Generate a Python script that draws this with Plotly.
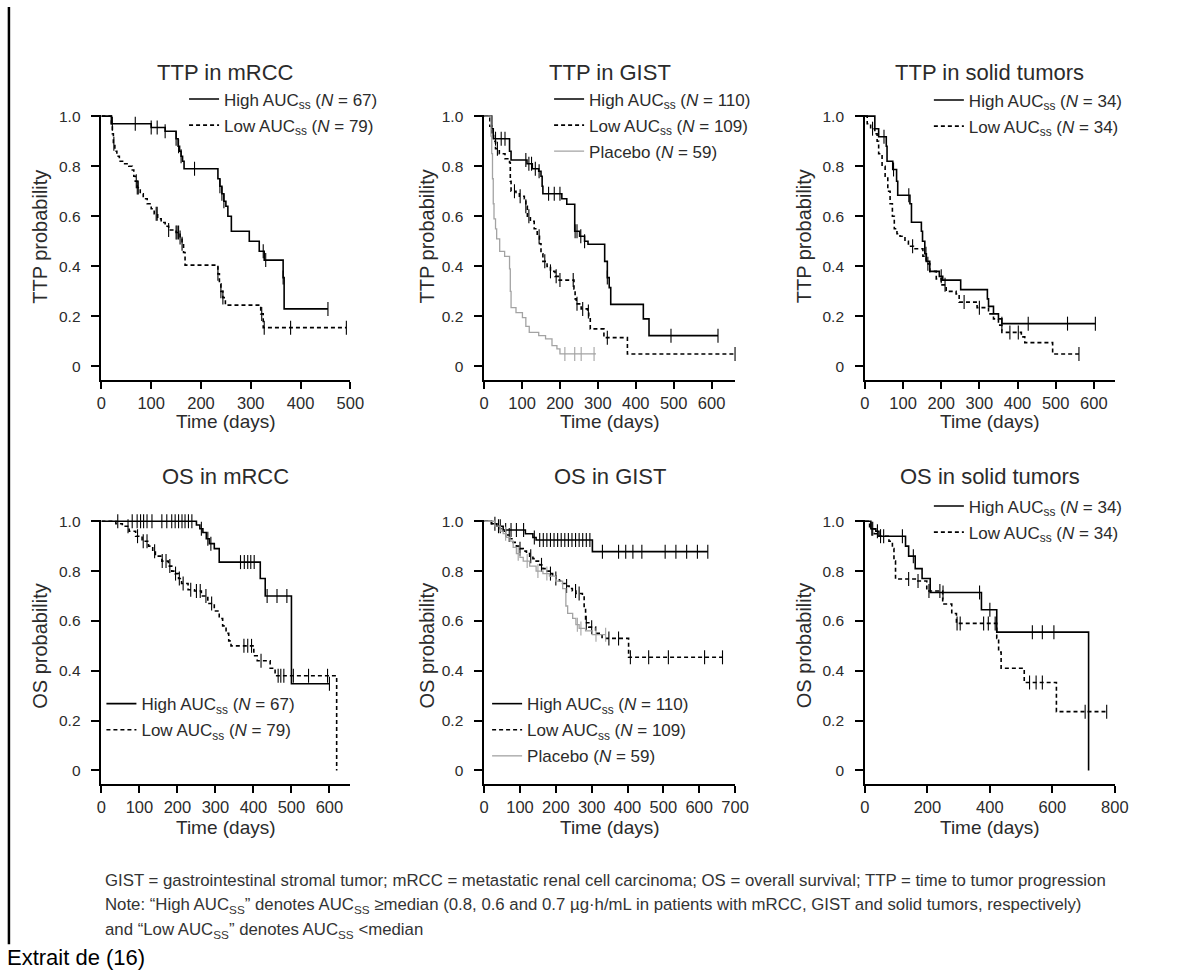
import plotly.graph_objects as go

# ---------------- DATA ----------------
# Each curve: step times (days), survival after each step, censor times (days)

# TTP in mRCC
ttp_mrcc_high_t = [0, 20, 100, 128, 150, 154, 157, 160, 163, 166, 234, 238, 242, 246, 250, 254, 261, 297, 317, 327, 365, 367, 455]
ttp_mrcc_high_s = [1.0, 0.97, 0.955, 0.94, 0.91, 0.88, 0.86, 0.84, 0.82, 0.79, 0.75, 0.72, 0.69, 0.66, 0.64, 0.60, 0.54, 0.50, 0.46, 0.425, 0.355, 0.23, 0.23]
ttp_mrcc_high_c = [22, 68, 100, 112, 128, 150, 155, 160, 187, 238, 242, 246, 325, 330, 365, 455]
ttp_mrcc_low_t = [0, 20, 22, 24, 27, 31, 36, 45, 55, 62, 65, 68, 72, 78, 84, 92, 100, 106, 113, 120, 128, 135, 150, 158, 162, 165, 168, 234, 237, 240, 244, 249, 320, 325, 492]
ttp_mrcc_low_s = [1.0, 0.97, 0.93, 0.89, 0.86, 0.84, 0.82, 0.81, 0.80, 0.785, 0.76, 0.74, 0.715, 0.69, 0.67, 0.65, 0.63, 0.61, 0.59, 0.575, 0.56, 0.545, 0.535, 0.515, 0.49, 0.455, 0.405, 0.37, 0.33, 0.30, 0.275, 0.245, 0.21, 0.155, 0.155]
ttp_mrcc_low_c = [25, 70, 72, 74, 110, 112, 135, 150, 152, 155, 158, 162, 234, 240, 244, 322, 327, 380, 492]

# TTP in GIST
ttp_gist_high_t = [0, 20, 24, 67, 71, 113, 127, 144, 150, 153, 155, 205, 218, 239, 252, 265, 274, 318, 325, 330, 334, 420, 435, 617]
ttp_gist_high_s = [1.0, 0.95, 0.91, 0.86, 0.825, 0.81, 0.79, 0.78, 0.76, 0.72, 0.69, 0.67, 0.648, 0.54, 0.52, 0.50, 0.488, 0.42, 0.355, 0.315, 0.248, 0.19, 0.123, 0.123]
ttp_gist_high_c = [30, 45, 55, 110, 118, 125, 135, 145, 170, 185, 200, 240, 245, 255, 265, 325, 493, 617]
ttp_gist_low_t = [0, 15, 20, 25, 30, 40, 55, 67, 69, 71, 84, 93, 106, 110, 114, 122, 132, 140, 146, 150, 155, 166, 175, 187, 198, 237, 240, 243, 256, 273, 276, 280, 316, 378, 662]
ttp_gist_low_s = [1.0, 0.96, 0.93, 0.90, 0.87, 0.85, 0.83, 0.815, 0.74, 0.70, 0.69, 0.68, 0.67, 0.64, 0.60, 0.58, 0.55, 0.52, 0.49, 0.45, 0.42, 0.40, 0.38, 0.36, 0.345, 0.31, 0.27, 0.25, 0.23, 0.22, 0.19, 0.15, 0.115, 0.05, 0.05]
ttp_gist_low_c = [35, 80, 95, 110, 118, 145, 160, 175, 190, 200, 235, 245, 260, 275, 325, 662]
ttp_gist_plac_t = [0, 18, 20, 22, 24, 26, 30, 33, 41, 54, 67, 69, 71, 84, 101, 110, 119, 144, 162, 179, 192, 200, 295]
ttp_gist_plac_s = [1.0, 0.92, 0.85, 0.75, 0.65, 0.59, 0.55, 0.51, 0.46, 0.44, 0.39, 0.30, 0.235, 0.215, 0.195, 0.16, 0.136, 0.123, 0.11, 0.083, 0.07, 0.05, 0.05]
ttp_gist_plac_c = [213, 239, 256, 290]

# TTP in solid tumors
ttp_solid_high_t = [0, 26, 36, 56, 58, 73, 83, 86, 118, 122, 148, 151, 157, 161, 170, 195, 204, 251, 321, 324, 337, 350, 359, 604]
ttp_solid_high_s = [1.0, 0.95, 0.918, 0.88, 0.82, 0.787, 0.74, 0.684, 0.65, 0.576, 0.54, 0.50, 0.45, 0.42, 0.38, 0.36, 0.345, 0.307, 0.27, 0.24, 0.21, 0.19, 0.171, 0.171]
ttp_solid_high_c = [50, 75, 115, 160, 200, 359, 428, 531, 604]
ttp_solid_low_t = [0, 6, 15, 26, 32, 36, 45, 53, 60, 66, 72, 77, 84, 92, 105, 114, 127, 152, 161, 170, 187, 200, 213, 239, 247, 294, 324, 337, 350, 359, 410, 419, 492, 561]
ttp_solid_low_s = [1.0, 0.97, 0.95, 0.93, 0.90, 0.85, 0.80, 0.76, 0.70, 0.65, 0.60, 0.55, 0.53, 0.52, 0.50, 0.48, 0.47, 0.44, 0.41, 0.38, 0.35, 0.326, 0.30, 0.29, 0.257, 0.235, 0.21, 0.19, 0.165, 0.136, 0.118, 0.095, 0.05, 0.05]
ttp_solid_low_c = [20, 125, 165, 210, 260, 300, 380, 402, 561]

# OS in mRCC
os_mrcc_high_t = [0, 250, 259, 267, 276, 284, 297, 310, 418, 431, 500, 600]
os_mrcc_high_s = [1.0, 0.985, 0.97, 0.955, 0.93, 0.91, 0.89, 0.836, 0.77, 0.70, 0.348, 0.348]
os_mrcc_high_c = [43, 81, 94, 103, 111, 120, 133, 159, 172, 185, 194, 203, 212, 220, 229, 238, 263, 280, 288, 366, 376, 385, 393, 402, 436, 462, 488, 600]
os_mrcc_low_t = [0, 38, 55, 73, 90, 107, 124, 135, 142, 159, 176, 185, 194, 203, 211, 228, 245, 263, 280, 297, 310, 319, 328, 335, 341, 401, 410, 444, 457, 619]
os_mrcc_low_s = [1.0, 0.99, 0.98, 0.96, 0.94, 0.92, 0.90, 0.88, 0.86, 0.84, 0.82, 0.80, 0.79, 0.77, 0.75, 0.725, 0.72, 0.70, 0.67, 0.64, 0.61, 0.58, 0.55, 0.52, 0.50, 0.46, 0.44, 0.41, 0.38, 0.0]
os_mrcc_low_c = [70, 95, 110, 120, 140, 160, 170, 180, 195, 205, 215, 235, 250, 260, 275, 290, 375, 385, 395, 420, 465, 472, 480, 505, 545, 595]

# OS in GIST
os_gist_high_t = [0, 21, 35, 53, 115, 136, 145, 302, 624]
os_gist_high_s = [1.0, 0.99, 0.98, 0.965, 0.95, 0.935, 0.925, 0.878, 0.878]
os_gist_high_c = [30, 45, 60, 75, 90, 110, 140, 155, 165, 175, 185, 195, 205, 215, 225, 235, 245, 255, 265, 275, 285, 295, 330, 375, 395, 415, 440, 505, 535, 565, 595, 624]
os_gist_low_t = [0, 20, 35, 45, 53, 62, 72, 81, 90, 100, 109, 118, 127, 136, 145, 155, 164, 173, 182, 191, 200, 210, 219, 228, 237, 246, 256, 274, 279, 283, 292, 311, 329, 403, 665]
os_gist_low_s = [1.0, 0.99, 0.98, 0.97, 0.96, 0.945, 0.93, 0.915, 0.90, 0.89, 0.88, 0.87, 0.86, 0.85, 0.84, 0.825, 0.81, 0.80, 0.79, 0.78, 0.77, 0.76, 0.75, 0.74, 0.73, 0.72, 0.71, 0.70, 0.65, 0.593, 0.575, 0.55, 0.53, 0.454, 0.454]
os_gist_low_c = [40, 70, 100, 130, 160, 185, 200, 230, 255, 265, 285, 300, 348, 375, 408, 459, 514, 615, 665]
os_gist_plac_t = [0, 30, 45, 53, 62, 72, 81, 90, 100, 109, 127, 145, 164, 182, 200, 219, 228, 233, 247, 256, 265, 283, 302, 339]
os_gist_plac_s = [1.0, 0.98, 0.96, 0.95, 0.935, 0.92, 0.895, 0.87, 0.855, 0.84, 0.82, 0.80, 0.79, 0.78, 0.76, 0.73, 0.66, 0.63, 0.61, 0.585, 0.57, 0.56, 0.545, 0.545]
os_gist_plac_c = [60, 95, 120, 150, 175, 260, 270, 312, 339]

# OS in solid tumors
os_solid_high_t = [0, 19, 35, 45, 130, 140, 161, 183, 209, 373, 422, 716]
os_solid_high_s = [1.0, 0.97, 0.96, 0.94, 0.90, 0.86, 0.81, 0.77, 0.714, 0.645, 0.555, 0.0]
os_solid_high_c = [25, 40, 60, 120, 155, 250, 367, 400, 536, 568, 605]
os_solid_low_t = [0, 15, 30, 45, 77, 88, 93, 98, 167, 198, 249, 278, 293, 422, 428, 436, 510, 613, 774]
os_solid_low_s = [1.0, 0.97, 0.95, 0.94, 0.92, 0.89, 0.84, 0.768, 0.76, 0.72, 0.668, 0.63, 0.59, 0.53, 0.475, 0.41, 0.353, 0.236, 0.236]
os_solid_low_c = [22, 50, 140, 170, 205, 240, 295, 305, 380, 395, 417, 527, 548, 568, 705, 774]

panel_titles = ["TTP in mRCC", "TTP in GIST", "TTP in solid tumors",
                "OS in mRCC", "OS in GIST", "OS in solid tumors"]
y_titles = ["TTP probability"] * 3 + ["OS probability"] * 3
x_title = "Time (days)"
x_ranges = [[0, 500], [0, 662], [0, 655], [0, 655], [0, 700], [0, 800]]
x_ticks = [[0, 100, 200, 300, 400, 500],
           [0, 100, 200, 300, 400, 500, 600],
           [0, 100, 200, 300, 400, 500, 600],
           [0, 100, 200, 300, 400, 500, 600],
           [0, 100, 200, 300, 400, 500, 600, 700],
           [0, 200, 400, 600, 800]]
y_ticks = [0, 0.2, 0.4, 0.6, 0.8, 1.0]
y_ticklabels = ["0", "0.2", "0.4", "0.6", "0.8", "1.0"]

lbl_high = "High AUC<sub>ss</sub> (<i>N</i> = {})"
lbl_low = "Low AUC<sub>ss</sub> (<i>N</i> = {})"
lbl_plac = "Placebo (<i>N</i> = {})"
n_mrcc = (67, 79)
n_gist = (110, 109, 59)
n_solid = (34, 34)

footnote_lines = [
    "GIST = gastrointestinal stromal tumor; mRCC = metastatic renal cell carcinoma; OS = overall survival; TTP = time to tumor progression",
    "Note: \u201cHigh AUC<sub>SS</sub>\u201d denotes AUC<sub>SS</sub> \u2265median (0.8, 0.6 and 0.7 \u00b5g\u00b7h/mL in patients with mRCC, GIST and solid tumors, respectively)",
    "and \u201cLow AUC<sub>SS</sub>\u201d denotes AUC<sub>SS</sub> <median",
]
source_text = "Extrait de (16)"

# ---------------- STYLE / LAYOUT ----------------
W, H = 1179, 976
TXT = "#2b2b2b"
GRAY = "#a3a3a3"
FONT = "Liberation Sans, Arial, Helvetica, sans-serif"

def px_x(p):
    return p / W

def px_y(p):
    return 1 - p / H

col_dom = [(98, 351), (487, 742), (874, 1128)]
row_dom = [(108.7, 375.9), (516.7, 782.8)]
y_range = [-0.055, 1.005]

curves = [
    [(ttp_mrcc_high_t, ttp_mrcc_high_s, ttp_mrcc_high_c, "high", lbl_high.format(n_mrcc[0])),
     (ttp_mrcc_low_t, ttp_mrcc_low_s, ttp_mrcc_low_c, "low", lbl_low.format(n_mrcc[1]))],
    [(ttp_gist_high_t, ttp_gist_high_s, ttp_gist_high_c, "high", lbl_high.format(n_gist[0])),
     (ttp_gist_low_t, ttp_gist_low_s, ttp_gist_low_c, "low", lbl_low.format(n_gist[1])),
     (ttp_gist_plac_t, ttp_gist_plac_s, ttp_gist_plac_c, "plac", lbl_plac.format(n_gist[2]))],
    [(ttp_solid_high_t, ttp_solid_high_s, ttp_solid_high_c, "high", lbl_high.format(n_solid[0])),
     (ttp_solid_low_t, ttp_solid_low_s, ttp_solid_low_c, "low", lbl_low.format(n_solid[1]))],
    [(os_mrcc_high_t, os_mrcc_high_s, os_mrcc_high_c, "high", lbl_high.format(n_mrcc[0])),
     (os_mrcc_low_t, os_mrcc_low_s, os_mrcc_low_c, "low", lbl_low.format(n_mrcc[1]))],
    [(os_gist_high_t, os_gist_high_s, os_gist_high_c, "high", lbl_high.format(n_gist[0])),
     (os_gist_low_t, os_gist_low_s, os_gist_low_c, "low", lbl_low.format(n_gist[1])),
     (os_gist_plac_t, os_gist_plac_s, os_gist_plac_c, "plac", lbl_plac.format(n_gist[2]))],
    [(os_solid_high_t, os_solid_high_s, os_solid_high_c, "high", lbl_high.format(n_solid[0])),
     (os_solid_low_t, os_solid_low_s, os_solid_low_c, "low", lbl_low.format(n_solid[1]))],
]

styles = {
    "high": dict(color="black", width=1.6, dash="solid"),
    "low": dict(color="black", width=1.6, dash="4px,3px"),
    "plac": dict(color=GRAY, width=1.3, dash="solid"),
}

# legend positions (left px, top px)
legend_pos = [(182, 75), (553, 75), (939, 76), (98, 684), (490, 684), (939, 485)]


def step_value(ts, ss, x):
    val = ss[0]
    for t, s in zip(ts, ss):
        if t <= x:
            val = s
        else:
            break
    return val


fig = go.Figure()
layout = dict()
annotations = []

for i in range(6):
    r, c = divmod(i, 3)
    n = i + 1
    xa = "x" if n == 1 else f"x{n}"
    ya = "y" if n == 1 else f"y{n}"
    lg = "legend" if n == 1 else f"legend{n}"
    for (ts, ss, cs, kind, label) in curves[i]:
        st = styles[kind]
        fig.add_trace(go.Scatter(
            x=ts, y=ss, mode="lines", line=dict(shape="hv", **st),
            name=label, xaxis=xa, yaxis=ya, legend=lg, legendgroup=f"{n}{kind}",
            hoverinfo="skip"))
        fig.add_trace(go.Scatter(
            x=cs, y=[step_value(ts, ss, cv) for cv in cs], mode="markers",
            marker=dict(symbol="line-ns-open", size=10, color=st["color"],
                        line=dict(color=st["color"], width=1.1)),
            showlegend=False, xaxis=xa, yaxis=ya, hoverinfo="skip", cliponaxis=False))

    axis_common = dict(showline=True, linewidth=2, linecolor="black", ticks="outside",
                       tickwidth=1.5, tickcolor="black", showgrid=False,
                       zeroline=False, fixedrange=True)
    layout["xaxis" if n == 1 else f"xaxis{n}"] = dict(
        domain=[px_x(col_dom[c][0]), px_x(col_dom[c][1])], range=x_ranges[i],
        anchor=ya, tickvals=x_ticks[i], ticklen=7,
        tickfont=dict(size=16.5, color=TXT, family=FONT), **axis_common)
    layout["yaxis" if n == 1 else f"yaxis{n}"] = dict(
        domain=[px_y(row_dom[r][1]), px_y(row_dom[r][0])], range=y_range,
        anchor=xa, tickvals=y_ticks, ticktext=[t + "\u2002" for t in y_ticklabels],
        ticklen=8, tickfont=dict(size=15.5, color=TXT, family=FONT),
        **axis_common)
    lx, ly = legend_pos[i]
    layout[lg] = dict(x=px_x(lx), y=px_y(ly), xanchor="left", yanchor="top",
                      bgcolor="rgba(0,0,0,0)", borderwidth=0,
                      font=dict(size=17, color=TXT, family=FONT),
                      traceorder="grouped", tracegroupgap=1, itemwidth=30)

    # titles
    title_y = [66, 473][r]
    annotations.append(dict(text=panel_titles[i], xref=f"{xa} domain", yref="paper",
                            x=0.5, y=px_y(title_y), xanchor="center", yanchor="middle",
                            showarrow=False, font=dict(size=22, color=TXT, family=FONT)))
    xt_y = [417, 826][r]
    annotations.append(dict(text=x_title, xref=f"{xa} domain", yref="paper",
                            x=0.5, y=px_y(xt_y), xanchor="center", yanchor="middle",
                            showarrow=False, font=dict(size=19, color=TXT, family=FONT)))
    yt_x = [36, 429, 812][c]
    yt_y = [231, 643][r]
    annotations.append(dict(text=y_titles[i], xref="paper", yref="paper",
                            x=px_x(yt_x), y=px_y(yt_y), xanchor="center", yanchor="middle",
                            showarrow=False, textangle=-90,
                            font=dict(size=20, color=TXT, family=FONT)))

foot_y = [880, 905, 930]
for line, fy in zip(footnote_lines, foot_y):
    annotations.append(dict(text=line, xref="paper", yref="paper", x=px_x(100), y=px_y(fy),
                            xanchor="left", yanchor="middle", showarrow=False,
                            font=dict(size=16.8, color="#333333", family=FONT)))
annotations.append(dict(text=source_text, xref="paper", yref="paper", x=px_x(0), y=px_y(957),
                        xanchor="left", yanchor="middle", showarrow=False,
                        font=dict(size=22, color="black", family=FONT)))

fig.update_layout(
    width=W, height=H, margin=dict(l=0, r=0, t=0, b=0),
    paper_bgcolor="white", plot_bgcolor="white",
    font=dict(family=FONT, color=TXT),
    annotations=annotations,
    shapes=[dict(type="line", xref="paper", yref="paper", x0=px_x(4), x1=px_x(4),
                 y0=px_y(944), y1=1, line=dict(color="black", width=2.5))],
    **layout,
)

fig.write_html("out.html", config={"displayModeBar": False},
               post_script="document.body.style.margin='0';document.body.style.overflow='hidden';")
